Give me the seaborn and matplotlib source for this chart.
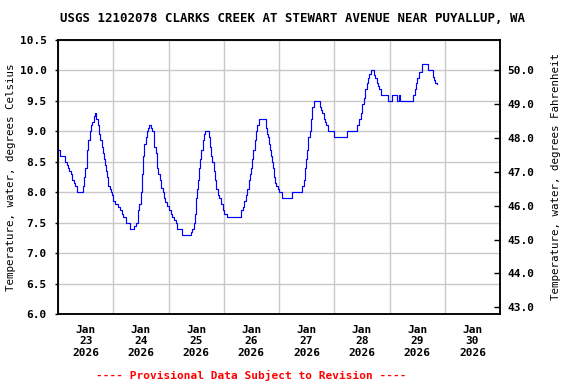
import numpy as np
import pandas as pd
import seaborn as sns
import matplotlib.pyplot as plt
import matplotlib.dates as mdates

# USGS 12102078 water temperature, hours since 2026-01-23 00:00
hours = [0.0, 0.7, 2.9, 3.8, 4.4, 4.9, 5.5, 6.1, 7.0, 7.6, 8.1, 10.9, 11.3, 11.6,
         12.4, 12.8, 13.2, 13.7, 14.3, 14.8, 15.6, 15.9, 16.7, 17.5, 18.0, 18.3,
         18.9, 19.5, 20.1, 20.4, 20.8, 21.2, 21.8, 22.4, 23.0, 23.3, 24.0, 24.9,
         26.2, 26.8, 27.6, 28.1, 29.4, 29.7, 31.3, 33.0, 33.8, 34.6, 34.9, 35.4,
         36.1, 36.7, 37.1, 37.5, 38.1, 38.7, 39.3, 39.7, 40.3, 40.9, 41.5, 41.9,
         42.5, 43.1, 43.6, 44.2, 44.8, 45.6, 45.9, 46.6, 47.3, 48.0, 49.1, 49.6,
         50.5, 51.1, 51.9, 53.9, 57.8, 58.4, 59.0, 59.5, 60.0, 60.4, 60.8, 61.4,
         61.9, 62.3, 62.9, 63.3, 63.9, 65.5, 65.9, 66.5, 67.1, 67.7, 68.3, 68.8,
         69.4, 70.0, 70.6, 71.5, 72.0, 73.5, 79.3, 80.2, 80.8, 81.6, 82.2, 82.8,
         83.4, 83.8, 84.3, 84.9, 85.4, 86.0, 86.6, 87.3, 90.4, 90.9, 91.1, 91.6,
         92.1, 92.7, 93.1, 93.4, 93.8, 94.2, 94.8, 95.4, 95.8, 97.1, 101.8, 106.1,
         106.7, 107.3, 107.7, 108.1, 108.7, 109.3, 109.9, 110.3, 111.3, 113.6,
         114.2, 114.8, 115.4, 116.0, 116.5, 117.1, 117.4, 120.0, 125.5, 130.0,
         130.9, 131.6, 132.2, 132.8, 133.5, 134.1, 134.7, 135.3, 135.8, 137.3,
         137.9, 138.4, 139.0, 139.6, 140.5, 143.4, 145.2, 147.3, 148.1, 148.6,
         154.4, 155.0, 155.5, 156.1, 157.0, 158.1, 160.7, 162.8, 163.3, 163.9,
         164.5]
temps_c = [8.7, 8.6, 8.5, 8.45, 8.4, 8.35, 8.3, 8.2, 8.15, 8.1, 8.0, 8.1, 8.25, 8.4,
           8.5, 8.7, 8.85, 9.0, 9.1, 9.15, 9.25, 9.3, 9.2, 9.1, 8.95, 8.85,
           8.75, 8.65, 8.55, 8.45, 8.35, 8.25, 8.1, 8.05, 8.0, 7.95, 7.85, 7.8,
           7.75, 7.7, 7.65, 7.6, 7.55, 7.5, 7.4, 7.45, 7.5, 7.6, 7.7, 7.8,
           8.0, 8.3, 8.6, 8.8, 8.9, 9.0, 9.05, 9.1, 9.05, 9.0, 8.85, 8.75,
           8.65, 8.4, 8.3, 8.2, 8.07, 8.0, 7.91, 7.84, 7.78, 7.7, 7.65, 7.6,
           7.55, 7.5, 7.4, 7.3, 7.35, 7.4, 7.5, 7.65, 7.9, 8.05, 8.2, 8.4,
           8.55, 8.7, 8.85, 8.95, 9.0, 8.9, 8.75, 8.6, 8.5, 8.35, 8.2, 8.05,
           7.95, 7.9, 7.8, 7.7, 7.65, 7.6, 7.7, 7.75, 7.85, 7.95, 8.05, 8.2,
           8.3, 8.4, 8.55, 8.7, 8.85, 9.0, 9.1, 9.2, 9.05, 8.95, 8.9, 8.8,
           8.7, 8.6, 8.5, 8.4, 8.25, 8.15, 8.1, 8.05, 8.0, 7.9, 8.0, 8.1,
           8.2, 8.4, 8.55, 8.7, 8.9, 9.0, 9.2, 9.4, 9.5, 9.4,
           9.35, 9.3, 9.2, 9.15, 9.1, 9.05, 9.0, 8.9, 9.0, 9.1,
           9.2, 9.3, 9.45, 9.55, 9.7, 9.8, 9.88, 9.94, 10.0, 9.93,
           9.88, 9.8, 9.75, 9.7, 9.6, 9.5, 9.6, 9.5, 9.6, 9.5,
           9.6, 9.7, 9.8, 9.88, 9.97, 10.1, 10.0, 9.9, 9.85, 9.8,
           9.78]
day_labels = ['Jan\n23\n2026', 'Jan\n24\n2026', 'Jan\n25\n2026', 'Jan\n26\n2026',
              'Jan\n27\n2026', 'Jan\n28\n2026', 'Jan\n29\n2026', 'Jan\n30\n2026']
celsius_ticks = [6.0, 6.5, 7.0, 7.5, 8.0, 8.5, 9.0, 9.5, 10.0, 10.5]
fahrenheit_ticks = [43.0, 44.0, 45.0, 46.0, 47.0, 48.0, 49.0, 50.0]

sns.set_style('white')
plt.rcParams['font.family'] = ['DejaVu Sans Mono']
plt.rcParams['font.weight'] = 'bold'
plt.rcParams['text.color'] = 'black'
plt.rcParams['axes.labelcolor'] = 'black'
plt.rcParams['xtick.color'] = 'black'
plt.rcParams['ytick.color'] = 'black'

start = pd.Timestamp('2026-01-23')
df = pd.DataFrame({'time': start + pd.to_timedelta(hours, unit='h'),
                   'temp': temps_c})

fig = plt.figure(figsize=(5.76, 3.84), dpi=100)
ax = fig.add_axes([58/576, 1 - 314/384, 442/576, 274/384])

sns.lineplot(data=df, x='time', y='temp', ax=ax, color='#0000ff', lw=0.85,
             drawstyle='steps-post', zorder=3)

# x axis: grid at midnight, labels at noon
noon = [mdates.date2num(start + pd.Timedelta(hours=12 + 24 * i)) for i in range(8)]
midnight = [mdates.date2num(start + pd.Timedelta(days=i)) for i in range(9)]
ax.set_xlim(midnight[0], midnight[-1])
ax.set_xticks(noon)
ax.set_xticklabels(day_labels, fontsize=8, linespacing=1.15)
ax.set_xticks(midnight, minor=True)
ax.tick_params(axis='x', which='both', length=0, pad=8)

ax.set_ylim(6.0, 10.5)
ax.set_yticks(celsius_ticks)
ax.set_yticklabels(['%.1f' % t for t in celsius_ticks], fontsize=8)
ax.tick_params(axis='y', direction='out', length=2, width=1, pad=6, left=True)

ax.grid(which='minor', axis='x', color='#c8c8c8', lw=1)
ax.grid(which='major', axis='y', color='#c8c8c8', lw=1)
ax.grid(which='major', axis='x', visible=False)
ax.set_xlabel('')
ax.set_ylabel('Temperature, water, degrees Celsius', fontsize=7.8, labelpad=3)

for sp in ax.spines.values():
    sp.set_color('black')
    sp.set_linewidth(1.1)

# right axis in Fahrenheit
ax2 = ax.twinx()
ax2.set_ylim(6.0 * 1.8 + 32, 10.5 * 1.8 + 32)
ax2.set_yticks(fahrenheit_ticks)
ax2.set_yticklabels(['%.1f' % t for t in fahrenheit_ticks], fontsize=8)
ax2.tick_params(axis='y', direction='in', length=4, width=1, pad=5, right=True)
ax2.set_ylabel('Temperature, water, degrees Fahrenheit', fontsize=7.8, labelpad=12)
ax2.grid(False)
for sp in ax2.spines.values():
    sp.set_color('black')
    sp.set_linewidth(1.1)

fig.text(292/576, 1 - 18/384,
         'USGS 12102078 CLARKS CREEK AT STEWART AVENUE NEAR PUYALLUP, WA',
         ha='center', va='center', fontsize=8.9, weight='bold')
fig.text(251/576, 1 - 375/384, '---- Provisional Data Subject to Revision ----',
         ha='center', va='center', fontsize=8, weight='bold', color='red')

fig.savefig('out.png', dpi=100)
